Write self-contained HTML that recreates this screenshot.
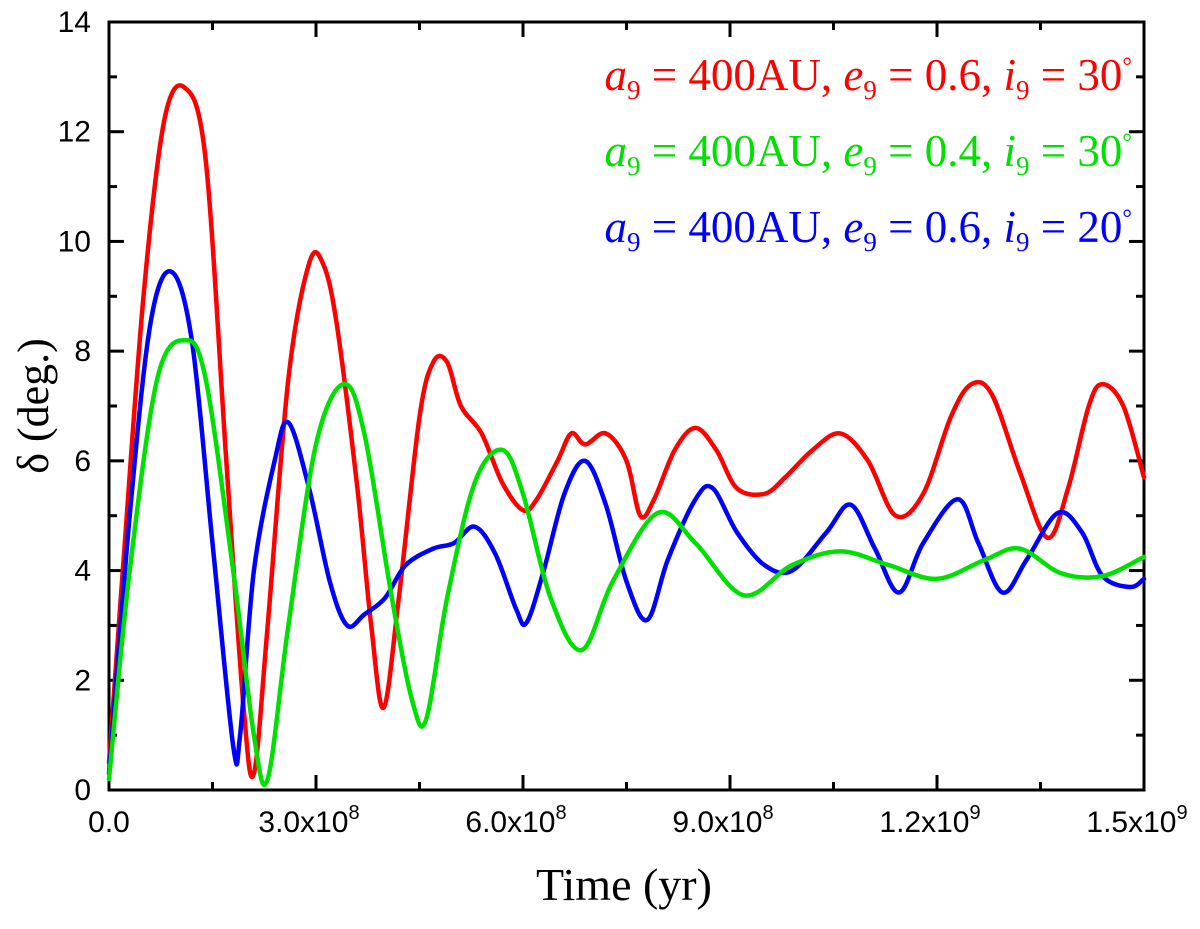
<!DOCTYPE html>
<html><head><meta charset="utf-8"><style>
body{margin:0;background:#fff}
svg text{font-family:"Liberation Sans",sans-serif}
.leg{font-family:"Liberation Serif",serif;font-size:45px}
</style></head><body>
<svg width="1200" height="924" xmlns="http://www.w3.org/2000/svg">
<g id="axes"></g>
<g id="series"></g>
<g id="legend">
<text class="leg" x="1132" y="90" text-anchor="end" fill="#ff0000"><tspan font-style="italic">a</tspan><tspan font-size="27" dy="9">9</tspan><tspan dy="-9"> = 400AU, </tspan><tspan font-style="italic">e</tspan><tspan font-size="27" dy="9">9</tspan><tspan dy="-9"> = 0.6, </tspan><tspan font-style="italic">i</tspan><tspan font-size="27" dy="9">9</tspan><tspan dy="-9"> = 30</tspan><tspan font-size="24" dy="-16">°</tspan></text>
<text class="leg" x="1132" y="166" text-anchor="end" fill="#00e000"><tspan font-style="italic">a</tspan><tspan font-size="27" dy="9">9</tspan><tspan dy="-9"> = 400AU, </tspan><tspan font-style="italic">e</tspan><tspan font-size="27" dy="9">9</tspan><tspan dy="-9"> = 0.4, </tspan><tspan font-style="italic">i</tspan><tspan font-size="27" dy="9">9</tspan><tspan dy="-9"> = 30</tspan><tspan font-size="24" dy="-16">°</tspan></text>
<text class="leg" x="1132" y="242" text-anchor="end" fill="#0000ff"><tspan font-style="italic">a</tspan><tspan font-size="27" dy="9">9</tspan><tspan dy="-9"> = 400AU, </tspan><tspan font-style="italic">e</tspan><tspan font-size="27" dy="9">9</tspan><tspan dy="-9"> = 0.6, </tspan><tspan font-style="italic">i</tspan><tspan font-size="27" dy="9">9</tspan><tspan dy="-9"> = 20</tspan><tspan font-size="24" dy="-16">°</tspan></text>
</g>
<text x="624" y="900" text-anchor="middle" style="font-family:'Liberation Serif',serif;font-size:46px">Time (yr)</text>
<text transform="translate(48,406) rotate(-90)" text-anchor="middle" style="font-family:'Liberation Serif',serif;font-size:44px">δ (deg.)</text>
</svg>
<script>
const xTickVals=[0,3,6,9,12,15];
const xTickLabels=["0.0","3.0x10","6.0x10","9.0x10","1.2x10","1.5x10"];
const xTickExp=["","8","8","8","9","9"];
const yTickVals=[0,2,4,6,8,10,12,14];
const redT=[0,0.2,0.5,0.8,1.1,1.4,1.7,1.95,2.1,2.3,2.6,2.9,3.1,3.3,3.6,3.8,3.98,4.2,4.5,4.7,4.9,5.1,5.4,5.7,6.0,6.2,6.5,6.7,6.9,7.2,7.5,7.7,7.9,8.2,8.5,8.8,9.1,9.5,9.8,10.2,10.6,11.0,11.4,11.8,12.2,12.5,12.8,13.2,13.6,13.9,14.2,14.4,14.7,15];
const redV=[0.5,4,9,12.2,12.8,11.5,6,1.5,0.3,3,7.5,9.6,9.6,8.5,5.5,3,1.5,3.5,6.8,7.8,7.8,7,6.5,5.6,5.1,5.3,6,6.5,6.3,6.5,6,5.0,5.3,6.2,6.6,6.2,5.5,5.4,5.7,6.2,6.5,6.0,5.0,5.4,6.8,7.4,7.2,5.8,4.6,5.5,7.0,7.4,7.0,5.7];
const greenT=[0,0.3,0.7,1.1,1.4,1.8,2.1,2.3,2.6,3.0,3.4,3.7,4.1,4.4,4.6,4.9,5.3,5.7,6.0,6.4,6.85,7.3,7.95,8.5,9.2,9.9,10.6,11.3,12.0,12.7,13.2,13.8,14.4,15];
const greenV=[0.2,4,7.5,8.2,7.5,4,1,0.2,3,6.3,7.4,6.5,3.5,1.6,1.3,3.5,5.6,6.2,5.4,3.5,2.55,3.8,5.05,4.5,3.55,4.1,4.35,4.1,3.85,4.2,4.4,3.95,3.9,4.25];
const blueT=[0,0.3,0.6,0.9,1.2,1.5,1.8,1.9,2.1,2.4,2.6,2.9,3.2,3.45,3.7,4.0,4.3,4.7,5.0,5.3,5.6,5.9,6.05,6.3,6.6,6.9,7.2,7.5,7.8,8.1,8.5,8.75,9.1,9.5,9.9,10.4,10.75,11.1,11.45,11.8,12.3,12.6,12.95,13.3,13.75,14.1,14.4,14.8,15];
const blueV=[0.3,5,8.5,9.45,8.2,4.5,0.8,1.0,4,6,6.7,5.5,3.8,3.0,3.2,3.5,4.1,4.4,4.5,4.8,4.3,3.3,3.05,4,5.4,6.0,5.2,3.8,3.1,4.2,5.3,5.5,4.7,4.1,4.0,4.7,5.2,4.4,3.6,4.5,5.3,4.5,3.6,4.2,5.05,4.7,3.9,3.7,3.85];
const X0=109,X1=1144,Y0=790,Y1=22;
const sx=v=>X0+(X1-X0)*v/15, sy=v=>Y0-(Y0-Y1)*v/14;
const NS="http://www.w3.org/2000/svg";
function mk(tag,attrs,parent){const e=document.createElementNS(NS,tag);for(const k in attrs)e.setAttribute(k,attrs[k]);parent.appendChild(e);return e;}
const ax=document.getElementById('axes');
const frame=mk('rect',{x:X0,y:Y1,width:X1-X0,height:Y0-Y1,fill:'none',stroke:'#000','stroke-width':3},ax);


for(let v=0;v<=15;v+=1.5){const maj=Math.abs(v/3-Math.round(v/3))<1e-6;const L=maj?15:8;const x=sx(v);
 const t1=mk('line',{x1:x,x2:x,y1:Y0,y2:Y0-L,stroke:'#000','stroke-width':3},ax);
 
 const t2=mk('line',{x1:x,x2:x,y1:Y1,y2:Y1+L,stroke:'#000','stroke-width':3},ax);
 }
for(let v=0;v<=14;v+=1){const maj=v%2===0;const L=maj?15:8;const y=sy(v);
 const t1=mk('line',{x1:X0,x2:X0+L,y1:y,y2:y,stroke:'#000','stroke-width':3},ax);
 
 const t2=mk('line',{x1:X1,x2:X1-L,y1:y,y2:y,stroke:'#000','stroke-width':3},ax);
 }
xTickVals.forEach((v,i)=>{const t=mk('text',{x:sx(v)-(xTickExp[i]?7:0),y:Y0+42,'text-anchor':'middle','font-size':30},ax);
 
 t.textContent=xTickLabels[i];
 if(xTickExp[i]){const s=mk('tspan',{'font-size':20,dy:-13},t);s.textContent=xTickExp[i];}});
yTickVals.forEach(v=>{const t=mk('text',{x:X0-18,y:sy(v)+10,'text-anchor':'end','font-size':30},ax);
 t.textContent=v;});
const sg=document.getElementById('series');
function line(T,V,color,name){
 const P=T.map((t,i)=>[sx(t),sy(V[i])]);
 let d='M'+P[0][0].toFixed(1)+','+P[0][1].toFixed(1);
 for(let i=0;i<P.length-1;i++){const p0=P[i>0?i-1:i],p1=P[i],p2=P[i+1],p3=P[i+2<P.length?i+2:i+1];
  const c1=[p1[0]+(p2[0]-p0[0])/6,p1[1]+(p2[1]-p0[1])/6],c2=[p2[0]-(p3[0]-p1[0])/6,p2[1]-(p3[1]-p1[1])/6];
  d+=' C'+c1.map(v=>v.toFixed(1)).join(',')+' '+c2.map(v=>v.toFixed(1)).join(',')+' '+p2[0].toFixed(1)+','+p2[1].toFixed(1);}
 const e=mk('path',{d:d,fill:'none',stroke:color,'stroke-width':4.5,'stroke-linejoin':'round','stroke-linecap':'round'},sg);
 }
line(redT,redV,'#ff0000','series-red-e06-i30');
line(blueT,blueV,'#0000ff','series-blue-e06-i20');
line(greenT,greenV,'#00e000','series-green-e04-i30');
</script>
</body></html>
